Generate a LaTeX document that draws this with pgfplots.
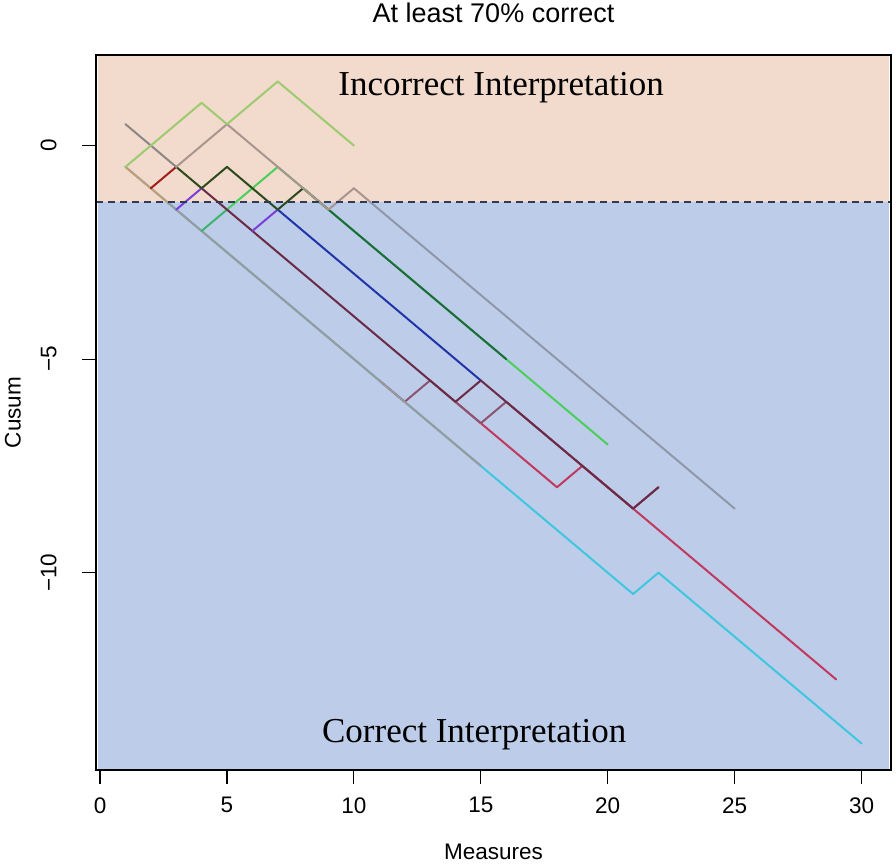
\documentclass[border=0pt]{standalone}
\usepackage{pgfplots}
\pgfplotsset{compat=1.18}
\usepackage{fontspec}
\setmainfont{Liberation Sans}
\newfontfamily\timesfont{Liberation Serif}
\definecolor{pinkbg}{HTML}{F2DACD}
\definecolor{bluebg}{HTML}{BDCCE8}
\definecolor{dashc}{HTML}{2E3B55}
\definecolor{cyanL}{HTML}{3FC7E0}
\definecolor{grayL}{HTML}{9A9A9C}
\definecolor{tanL}{HTML}{C89B74}
\definecolor{redL}{HTML}{C0395E}
\definecolor{mauveL}{HTML}{8A5570}
\definecolor{maroonL}{HTML}{6B2A45}
\definecolor{blueL}{HTML}{2035A8}
\definecolor{purpleL}{HTML}{7B3FD8}
\definecolor{seaL}{HTML}{3BB56A}
\definecolor{limeL}{HTML}{4ACF5A}
\definecolor{dgreenA}{HTML}{2C4A1C}
\definecolor{dgreenB}{HTML}{1F6B3F}
\definecolor{dredL}{HTML}{A0201C}
\definecolor{grayA}{HTML}{8C8686}
\definecolor{rosyL}{HTML}{A8968E}
\definecolor{slateL}{HTML}{8F98A9}
\definecolor{ygreenL}{HTML}{9CCB70}
\begin{document}
\begin{tikzpicture}
\begin{axis}[
  name=ax,
  scale only axis,
  width=397.5pt, height=357.5pt,
  xmin=-0.16, xmax=31.16, ymin=-14.62, ymax=2.12,
  axis on top,
  xtick={0,5,10,15,20,25,30},
  ytick={-10,-5,0},
  yticklabels={−10,−5,0},
  tick align=outside,
  xtick pos=left, ytick pos=left,
  major tick length=7pt,
  tick style={black, line width=0.6pt},
  axis line style={line width=0.7pt},
  /pgf/number format/assume math mode=true,
  tick label style={font=\fontsize{11.25}{13.5}\selectfont, inner sep=0pt},
  xticklabel style={anchor=north},
  xticklabel shift=6.5pt,
  yticklabel style={rotate=90, anchor=south},
  yticklabel shift=12.5pt,
  xlabel={Measures}, ylabel={Cusum},
  label style={font=\fontsize{11.25}{13.5}\selectfont},
  xlabel style={at={(axis description cs:0.5,-0.1147)}, anchor=center},
  ylabel style={at={(axis description cs:-0.1044,0.5)}, anchor=center},
  title={At least 70\% correct},
  title style={at={(axis description cs:0.5,1.0419)}, anchor=center, font=\fontsize{13.5}{16}\selectfont},
  every axis plot/.append style={line width=1pt, line join=round, line cap=round},
]
\fill[pinkbg] (axis cs:-0.10,-1.32) rectangle (axis cs:31.10,2.085);
\fill[bluebg] (axis cs:-0.10,-14.585) rectangle (axis cs:31.10,-1.32);

\addplot[cyanL] coordinates {(1,-0.5) (21,-10.5) (22,-10) (30,-14)};
\addplot[redL] coordinates {(14,-6) (15,-6.5) (18,-8) (19,-7.5) (29,-12.5)};
\addplot[mauveL] coordinates {(11,-5.5) (12,-6) (13,-5.5) (15,-6.5) (16,-6) (21,-8.5) (22,-8)};
\addplot[grayL] coordinates {(2.64,-1.32) (15,-7.5)};
\addplot[tanL] coordinates {(1,-0.5) (2.64,-1.32)};
\addplot[seaL] coordinates {(4,-2) (5,-1.5)};
\addplot[limeL] coordinates {(5,-1.5) (7,-0.5) (20,-7)};
\addplot[blueL] coordinates {(7,-1.5) (15,-5.5)};
\addplot[maroonL] coordinates {(4,-1) (14,-6) (15,-5.5) (21,-8.5) (22,-8)};
\addplot[purpleL] coordinates {(3,-1.5) (4,-1)};
\addplot[purpleL] coordinates {(6,-2) (7,-1.5)};
\addplot[dgreenB] coordinates {(8,-1) (16,-5)};
\addplot[dgreenA] coordinates {(3,-0.5) (4,-1) (5,-0.5) (7,-1.5) (8,-1)};
\addplot[dredL] coordinates {(2,-1) (3,-0.5)};
\addplot[grayA] coordinates {(1,0.5) (3,-0.5)};
\addplot[rosyL] coordinates {(3,-0.5) (5,0.5) (9,-1.5) (10,-1) (10.64,-1.32)};
\addplot[slateL] coordinates {(10.64,-1.32) (25,-8.5)};
\addplot[ygreenL] coordinates {(1,-0.5) (4,1) (5,0.5) (7,1.5) (10,0)};

\addplot[dashc, line width=0.75pt, dash pattern=on 3.5pt off 2.5pt, line cap=butt] coordinates {(-0.16,-1.32) (31.16,-1.32)};

\node[font=\timesfont\fontsize{17.5}{20}\selectfont, anchor=base] at (axis cs:15.8,1.16) {Incorrect Interpretation};
\node[font=\timesfont\fontsize{17.5}{20}\selectfont, anchor=base] at (axis cs:14.74,-13.98) {Correct Interpretation};
\end{axis}
\pgfresetboundingbox
\path ([xshift=-48pt,yshift=-47.5pt]ax.south west) rectangle ([xshift=2.5pt,yshift=27.5pt]ax.north east);
\end{tikzpicture}
\end{document}
